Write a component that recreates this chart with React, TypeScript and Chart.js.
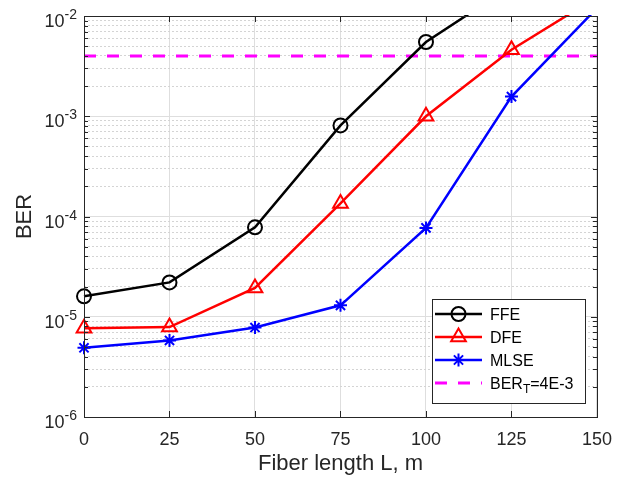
import React, { useEffect, useRef } from 'react';
import { Chart, registerables } from 'chart.js';

Chart.register(...registerables);

// ---- data ----
const fiberLength = [0, 25, 50, 75, 100, 125, 150];
const berFFE = [1.6e-5, 2.2e-5, 7.8e-5, 8.1e-4, 5.5e-3, 2.0e-2];
const berDFE = [7.7e-6, 7.9e-6, 1.94e-5, 1.35e-4, 1.0e-3, 4.6e-3, 1.55e-2];
const berMLSE = [4.9e-6, 5.8e-6, 7.8e-6, 1.3e-5, 7.7e-5, 1.57e-3, 1.2e-2];
const berThreshold = 4e-3;
const thresholdRange = [0, 150];
const seriesNames = ['FFE', 'DFE', 'MLSE'];
const thresholdLegend = ['BER', 'T', '=4E-3'];
const xTickValues = [0, 25, 50, 75, 100, 125, 150];
const yDecades = [1e-6, 1e-5, 1e-4, 1e-3, 1e-2];
const minorMultipliers = [1, 2, 3, 4, 5, 6, 7, 8, 9];

const FONT = '"Liberation Sans", Arial, Helvetica, sans-serif';
const AXIS_COLOR = '#262626';

const isDecade = (v: number) => Math.abs(Math.log10(v) - Math.round(Math.log10(v))) < 1e-6;

const yTickValues: number[] = [];
yDecades.forEach((d, i) => {
  if (i === yDecades.length - 1) {
    yTickValues.push(d);
  } else {
    minorMultipliers.forEach((m) => yTickValues.push(parseFloat((m * d).toPrecision(3))));
  }
});

const toPoints = (ys: number[]) => ys.map((y, i) => ({ x: fiberLength[i], y }));

// ---- plugins ----
const boxPlugin = {
  id: 'matlabBox',
  afterDatasetsDraw(chart: any) {
    const { ctx, chartArea: a, scales } = chart;
    const xs = scales.x;
    const ys = scales.y;
    ctx.save();
    ctx.strokeStyle = AXIS_COLOR;
    ctx.lineWidth = 1;
    ctx.setLineDash([]);
    ctx.strokeRect(Math.round(a.left) + 0.5, Math.round(a.top) + 0.5, Math.round(a.right - a.left), Math.round(a.bottom - a.top));
    ctx.beginPath();
    xTickValues.forEach((v) => {
      const px = Math.round(xs.getPixelForValue(v)) + 0.5;
      ctx.moveTo(px, a.bottom);
      ctx.lineTo(px, a.bottom - 6);
      ctx.moveTo(px, a.top);
      ctx.lineTo(px, a.top + 6);
    });
    yTickValues.forEach((v) => {
      const py = Math.round(ys.getPixelForValue(v)) + 0.5;
      const len = isDecade(v) ? 6 : 4;
      ctx.moveTo(a.left, py);
      ctx.lineTo(a.left + len, py);
      ctx.moveTo(a.right, py);
      ctx.lineTo(a.right - len, py);
    });
    ctx.stroke();
    ctx.restore();
  },
};

const yLabelPlugin = {
  id: 'yPowerLabels',
  afterDraw(chart: any) {
    const { ctx, chartArea: a, scales } = chart;
    const ys = scales.y;
    ctx.save();
    ctx.fillStyle = AXIS_COLOR;
    ctx.textAlign = 'right';
    ctx.textBaseline = 'alphabetic';
    yDecades.forEach((v) => {
      const py = ys.getPixelForValue(v);
      const exp = String(Math.round(Math.log10(v)));
      const right = a.left - 7;
      ctx.font = `14px ${FONT}`;
      const supW = ctx.measureText(exp).width;
      ctx.fillText(exp, right, py + 3);
      ctx.font = `18px ${FONT}`;
      ctx.fillText('10', right - supW, py + 11);
    });
    ctx.restore();
  },
};

function drawMarker(ctx: CanvasRenderingContext2D, style: string, x: number, y: number, r: number) {
  ctx.beginPath();
  if (style === 'circle') {
    ctx.arc(x, y, r, 0, Math.PI * 2);
  } else if (style === 'triangle') {
    let rad = 0;
    ctx.moveTo(x + Math.sin(rad) * r, y - Math.cos(rad) * r);
    rad += (Math.PI * 2) / 3;
    ctx.lineTo(x + Math.sin(rad) * r, y - Math.cos(rad) * r);
    rad += (Math.PI * 2) / 3;
    ctx.lineTo(x + Math.sin(rad) * r, y - Math.cos(rad) * r);
    ctx.closePath();
  } else if (style === 'star') {
    for (let k = 0; k < 2; k++) {
      const rad = (k * Math.PI) / 4;
      const xo = Math.cos(rad) * r;
      const yo = Math.sin(rad) * r;
      ctx.moveTo(x - xo, y - yo);
      ctx.lineTo(x + xo, y + yo);
      ctx.moveTo(x - yo, y + xo);
      ctx.lineTo(x + yo, y - xo);
    }
  }
  ctx.stroke();
}

const legendPlugin = {
  id: 'matlabLegend',
  afterDraw(chart: any) {
    const { ctx, chartArea: a } = chart;
    const w = 153;
    const h = 104;
    const x0 = Math.round(a.right - 12 - w);
    const y0 = Math.round(a.bottom - 14 - h);
    ctx.save();
    ctx.fillStyle = '#ffffff';
    ctx.fillRect(x0, y0, w, h);
    ctx.strokeStyle = AXIS_COLOR;
    ctx.lineWidth = 1;
    ctx.strokeRect(x0 + 0.5, y0 + 0.5, w, h);
    chart.data.datasets.forEach((ds: any, i: number) => {
      const cy = y0 + 15 + i * 23;
      const lx0 = x0 + 3;
      const lx1 = x0 + 50;
      ctx.strokeStyle = ds.borderColor;
      ctx.lineWidth = ds.borderWidth;
      ctx.setLineDash(ds.borderDash || []);
      ctx.beginPath();
      ctx.moveTo(lx0, cy);
      ctx.lineTo(lx1, cy);
      ctx.stroke();
      ctx.setLineDash([]);
      if (ds.pointRadius > 0) {
        ctx.lineWidth = ds.pointBorderWidth;
        drawMarker(ctx, ds.pointStyle, (lx0 + lx1) / 2, cy, ds.pointRadius);
      }
      ctx.fillStyle = '#000000';
      ctx.textAlign = 'left';
      ctx.textBaseline = 'alphabetic';
      const tx = x0 + 58;
      const base = cy + 6;
      if (i < seriesNames.length) {
        ctx.font = `16px ${FONT}`;
        ctx.fillText(ds.label, tx, base);
      } else {
        ctx.font = `16px ${FONT}`;
        ctx.fillText(thresholdLegend[0], tx, base);
        const w1 = ctx.measureText(thresholdLegend[0]).width;
        ctx.font = `12px ${FONT}`;
        ctx.fillText(thresholdLegend[1], tx + w1, base + 4);
        const w2 = ctx.measureText(thresholdLegend[1]).width;
        ctx.font = `16px ${FONT}`;
        ctx.fillText(thresholdLegend[2], tx + w1 + w2, base);
      }
    });
    ctx.restore();
  },
};

const clipArea = { left: 12, right: 12, top: 1, bottom: 12 };

export default function App() {
  const ref = useRef<HTMLCanvasElement>(null);

  useEffect(() => {
    if (!ref.current) return;
    const chart = new Chart(ref.current, {
      type: 'line',
      data: {
        datasets: [
          {
            label: seriesNames[0],
            data: toPoints(berFFE),
            borderColor: '#000000',
            backgroundColor: 'rgba(0,0,0,0)',
            borderWidth: 2.5,
            pointStyle: 'circle',
            pointRadius: 7,
            pointBorderWidth: 2,
            pointBackgroundColor: 'rgba(0,0,0,0)',
            pointBorderColor: '#000000',
            clip: clipArea,
          },
          {
            label: seriesNames[1],
            data: toPoints(berDFE),
            borderColor: '#ff0000',
            backgroundColor: 'rgba(0,0,0,0)',
            borderWidth: 2.5,
            pointStyle: 'triangle',
            pointRadius: 8.5,
            pointBorderWidth: 2,
            pointBackgroundColor: 'rgba(0,0,0,0)',
            pointBorderColor: '#ff0000',
            clip: clipArea,
          },
          {
            label: seriesNames[2],
            data: toPoints(berMLSE),
            borderColor: '#0000ff',
            backgroundColor: 'rgba(0,0,0,0)',
            borderWidth: 2.5,
            pointStyle: 'star',
            pointRadius: 6.5,
            pointBorderWidth: 2,
            pointBackgroundColor: 'rgba(0,0,0,0)',
            pointBorderColor: '#0000ff',
            clip: clipArea,
          },
          {
            label: thresholdLegend.join(''),
            data: thresholdRange.map((x) => ({ x, y: berThreshold })),
            borderColor: '#ff00ff',
            backgroundColor: 'rgba(0,0,0,0)',
            borderWidth: 3,
            borderDash: [12, 11],
            pointRadius: 0,
            clip: clipArea,
          },
        ],
      } as any,
      options: {
        animation: false,
        responsive: false,
        maintainAspectRatio: false,
        layout: { padding: { left: 0, top: 16, right: 26, bottom: 0 } },
        plugins: {
          legend: { display: false },
          tooltip: { enabled: false },
        },
        scales: {
          x: {
            type: 'linear',
            min: 0,
            max: 150,
            afterBuildTicks: (s: any) => {
              s.ticks = xTickValues.map((v) => ({ value: v }));
            },
            afterFit: (s: any) => {
              s.height = 62;
            },
            ticks: {
              autoSkip: false,
              maxRotation: 0,
              padding: 12,
              color: AXIS_COLOR,
              font: { family: FONT, size: 18 },
            },
            grid: { color: '#dedede', lineWidth: 1, drawTicks: false },
            border: { display: false },
            title: {
              display: true,
              text: 'Fiber length L, m',
              color: AXIS_COLOR,
              font: { family: FONT, size: 22 },
              padding: { top: 0, bottom: 2 },
            },
          },
          y: {
            type: 'logarithmic',
            min: 1e-6,
            max: 1e-2,
            afterBuildTicks: (s: any) => {
              s.ticks = yTickValues.map((v) => ({ value: v, major: isDecade(v) }));
            },
            afterFit: (s: any) => {
              s.width = 84;
            },
            ticks: { display: false },
            grid: {
              drawTicks: false,
              lineWidth: 1,
              color: (c: any) => (c.tick && isDecade(c.tick.value) ? '#dedede' : '#d4d4d4'),
            },
            border: {
              display: false,
              dash: (c: any) => (c.tick && isDecade(c.tick.value) ? [] : [2, 2]),
            },
            title: {
              display: true,
              text: 'BER',
              color: AXIS_COLOR,
              font: { family: FONT, size: 22 },
              padding: { top: 12, bottom: 0 },
            },
          },
        },
      } as any,
      plugins: [boxPlugin, yLabelPlugin, legendPlugin],
    });
    return () => chart.destroy();
  }, []);

  return (
    <div style={{ position: 'fixed', left: 0, top: 0, width: 624, height: 479, background: '#ffffff' }}>
      <canvas ref={ref} width={624} height={479} style={{ display: 'block', width: 624, height: 479 }} />
    </div>
  );
}
